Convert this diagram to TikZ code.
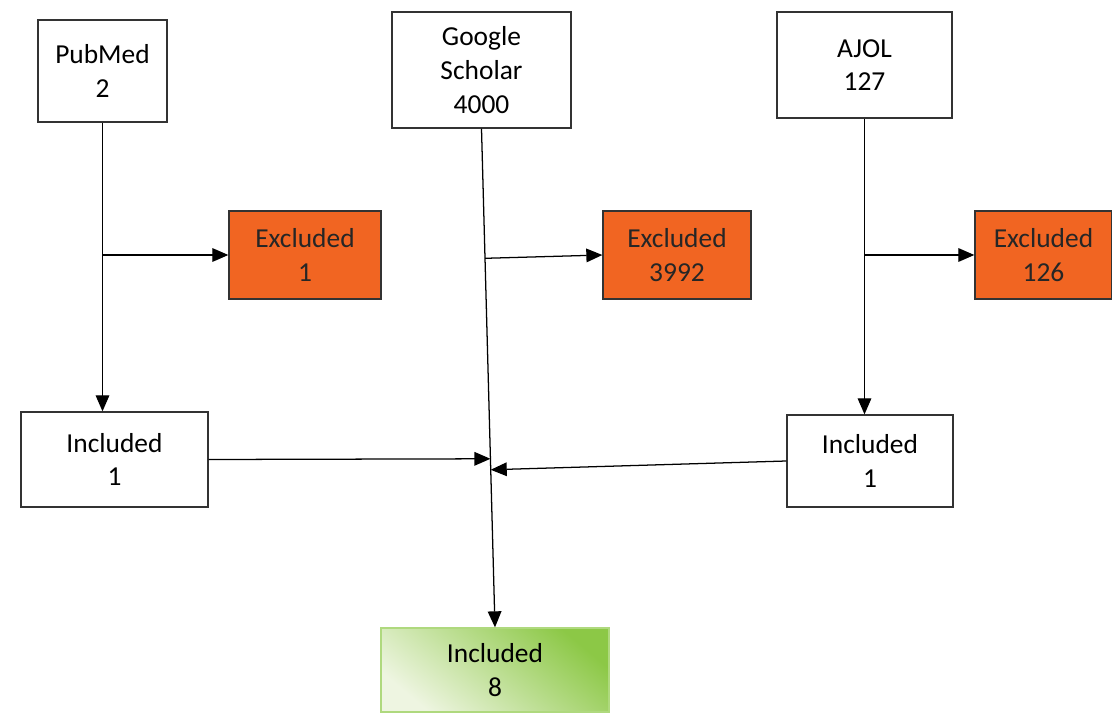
\documentclass[tikz,border=0pt]{standalone}
\usepackage{fontspec}
\setmainfont{Carlito}
\usetikzlibrary{arrows.meta,calc}
\definecolor{exclorange}{RGB}{241,101,34}
\definecolor{inclgreen}{RGB}{140,200,70}
\definecolor{inclpale}{RGB}{238,245,225}
\tikzstyle{line} = [draw, -{Stealth[length=4mm, width=3.4mm, inset=0pt]}, line width=0.9pt]
\tikzstyle{box} = [draw=black!80, line width=0.9pt, align=center, inner sep=0pt, font=\fontsize{19.5}{24}\selectfont]
\tikzstyle{excl} = [box, fill=exclorange, text=black!85]
\tikzstyle{final} = [box, draw=inclgreen!70, top color=inclgreen, bottom color=inclpale, shading angle=-40]

\begin{document}
\begin{tikzpicture}[x=0.025cm, y=-0.025cm]
        \useasboundingbox (0,0) rectangle (1112,715);

        \node[box, minimum width=3.225cm, minimum height=2.55cm] (pubmed) at (102.5,71) {PubMed\\ 2};
        \node[box, minimum width=4.475cm, minimum height=2.9cm] (scholar) at (481.5,70) {Google\\ Scholar\\ 4000};
        \node[box, minimum width=4.375cm, minimum height=2.65cm] (ajol) at (864.5,65) {AJOL\\ 127};

        \node[excl, minimum width=3.8cm, minimum height=2.2cm] (exclPubmed) at (305,255) {Excluded\\ 1};
        \node[excl, minimum width=3.7cm, minimum height=2.2cm] (exclScholar) at (677,255) {Excluded\\ 3992};
        \node[excl, minimum width=3.425cm, minimum height=2.2cm] (exclAjol) at (1043.5,255) {Excluded\\ 126};

        \node[box, minimum width=4.675cm, minimum height=2.375cm] (inclPubmed) at (114.5,459.5) {Included\\ 1};
        \node[box, minimum width=4.15cm, minimum height=2.3cm] (inclAjol) at (870,461) {Included\\ 1};

        \node[final, minimum width=5.7cm, minimum height=2.1cm] (inclAll) at (495,670) {Included\\ 8};

        \coordinate (splitPubmed) at (pubmed.south |- exclPubmed.west);
        \coordinate (splitScholar) at ($(scholar.south)!0.26!(inclAll.north)$);
        \coordinate (splitAjol) at (ajol.south |- exclAjol.west);
        \coordinate (joinPubmed) at ($(scholar.south)!0.662!(inclAll.north)$);
        \coordinate (joinAjol) at ($(scholar.south)!0.684!(inclAll.north)$);

        \path[line] (pubmed.south) -- (pubmed.south |- inclPubmed.north);
        \path[line] (splitPubmed) -- (exclPubmed.west);
        \path[line] (scholar.south) -- (inclAll.north);
        \path[line] (splitScholar) -- (exclScholar.west);
        \path[line] (ajol.south) -- (ajol.south |- inclAjol.north);
        \path[line] (splitAjol) -- (exclAjol.west);
        \path[line] (inclPubmed.east) -- (joinPubmed);
        \path[line] (inclAjol.west) -- (joinAjol);
    \end{tikzpicture}
\end{document}
